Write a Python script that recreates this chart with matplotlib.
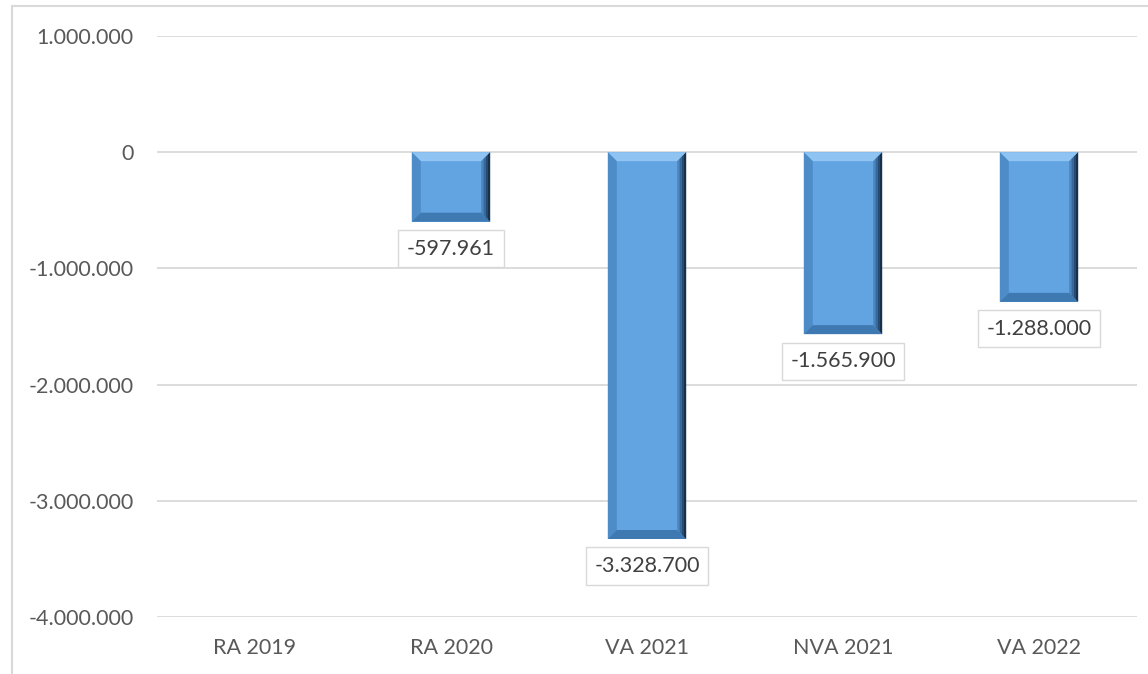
import numpy as np
import matplotlib
matplotlib.use('Agg')
import matplotlib.pyplot as plt
from matplotlib.patches import Polygon, Rectangle

# data
categories = ['RA 2019', 'RA 2020', 'VA 2021', 'NVA 2021', 'VA 2022']
values = [np.nan, -597961, -3328700, -1565900, -1288000]
labels = ['', '-597.961', '-3.328.700', '-1.565.900', '-1.288.000']
yticks = [1000000, 0, -1000000, -2000000, -3000000, -4000000]
ytick_labels = ['1.000.000', '0', '-1.000.000', '-2.000.000', '-3.000.000', '-4.000.000']

plt.rcParams['font.family'] = ['Lato', 'DejaVu Sans']

fig = plt.figure(figsize=(11.48, 6.74), dpi=100)
ax = fig.add_axes([157/1148, 1-617/674, 980/1148, 581/674])

# chart border (Excel style)
fig.patches.append(Rectangle((12/1148, -0.05), 1.2, 1.05 - 6/674, transform=fig.transFigure,
                             fill=False, edgecolor='#D9D9D9', lw=1.5))

x = np.arange(len(categories))
face = '#62A3E1'
bars = ax.bar(x, values, width=0.4, color=face, zorder=3)

# fake bevel like Excel
bx = 9/196
by = 9/116.3*1e6
for b in bars:
    h = b.get_height()
    if np.isnan(h) or h == 0:
        continue
    x0 = b.get_x(); x1 = x0 + b.get_width()
    y0 = 0; y1 = h   # y1 is the bottom (negative bar)
    # top strip
    ax.add_patch(Polygon([(x0, y0), (x1, y0), (x1-bx, y0-by), (x0+bx, y0-by)],
                         color='#8FC4F2', lw=0, zorder=4))
    # left strip
    ax.add_patch(Polygon([(x0, y0), (x0+bx, y0-by), (x0+bx, y1+by), (x0, y1)],
                         color='#4E8CC8', lw=0, zorder=4))
    # bottom strip
    ax.add_patch(Polygon([(x0, y1), (x0+bx, y1+by), (x1-bx, y1+by), (x1, y1)],
                         color='#3F79B2', lw=0, zorder=4))
    # right strip, few bands for a gradient
    cols = ['#4C86BE', '#37669A', '#264B73', '#17304B']
    n = len(cols)
    for i, c in enumerate(cols):
        a = bx*(n-i)/n; a2 = bx*(n-i-1)/n
        ax.add_patch(Polygon([(x1-a, y0-by*(n-i)/n), (x1-a2, y0-by*(n-i-1)/n),
                              (x1-a2, y1+by*(n-i-1)/n), (x1-a, y1+by*(n-i)/n)],
                             color=c, lw=0, zorder=4))

for xi, v, lab in zip(x, values, labels):
    if np.isnan(v):
        continue
    ax.annotate(lab, (xi, v), xytext=(0, -27), textcoords='offset pixels',
                ha='center', va='center', fontsize=15.5, color='#404040', zorder=5,
                bbox=dict(boxstyle='square,pad=0.4', fc='white', ec='#D9D9D9', lw=1))

ax.set_ylim(-4000000, 1000000)
ax.set_xlim(-0.5, len(categories)-0.5)
ax.set_yticks(yticks)
ax.set_yticklabels(ytick_labels)
ax.set_xticks(x)
ax.set_xticklabels(categories)
ax.tick_params(axis='both', length=0, labelsize=15.5, colors='#595959')
ax.tick_params(axis='y', pad=17)
ax.tick_params(axis='x', pad=15)
ax.grid(axis='y', color='#D9D9D9', lw=1.3, zorder=0)
for s in ax.spines.values():
    s.set_visible(False)

fig.savefig('out.png', dpi=100)
